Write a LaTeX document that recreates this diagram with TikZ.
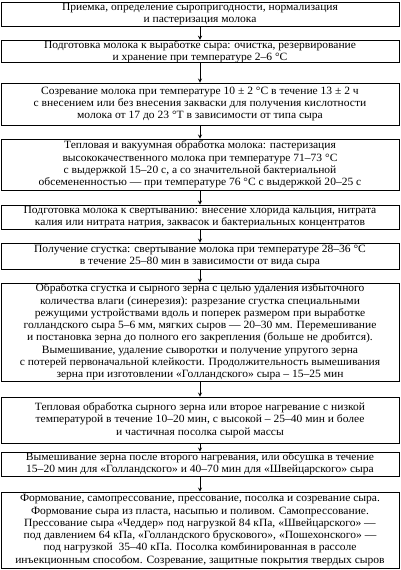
\documentclass[tikz,border=0pt]{standalone}
\usepackage{fontspec}
\setmainfont{Liberation Serif}[FakeStretch=1.04]
\usetikzlibrary{arrows, positioning}
\tikzset{>=stealth}
\tikzset{stage/.style={draw, line width=0.8pt, minimum width=398pt, inner sep=0pt, align=center, font=\fontsize{11.1}{12.3}\selectfont}}

\begin{document}
\begin{tikzpicture}[x=1pt,y=-1pt]
		\useasboundingbox (0,0) rectangle (400,570);
		\node[stage, minimum height=24pt] (A) at (200,14) {Приемка, определение сыропригодности, нормализация\\и пастеризация молока};
		\node[stage, minimum height=22pt] (B) at (200,51.5) {Подготовка молока к выработке сыра: очистка, резервирование\\и хранение при температуре 2–6 °С};
		\node[stage, minimum height=42pt] (C) at (200,104) {Созревание молока при температуре 10 ± 2 °С в течение 13 ± 2 ч\\с внесением или без внесения закваски для получения кислотности\\молока от 17 до 23 °Т в зависимости от типа сыра};
		\node[stage, minimum height=51pt] (D) at (200,164.5) {Тепловая и вакуумная обработка молока: пастеризация\\высококачественного молока при температуре 71–73 °С\\с выдержкой 15–20 с, а со значительной бактериальной\\обсемененностью — при температуре 76 °С с выдержкой 20–25 с};
		\node[stage, minimum height=24pt] (E) at (200,217) {Подготовка молока к свертыванию: внесение хлорида кальция, нитрата\\калия или нитрата натрия, заквасок и бактериальных концентратов};
		\node[stage, minimum height=26pt] (F) at (200,256) {Получение сгустка: свертывание молока при температуре 28–36 °С\\в течение 25–80 мин в зависимости от вида сыра};
		\node[stage, minimum height=98pt] (G) at (200,332) {Обработка сгустка и сырного зерна с целью удаления избыточного\\количества влаги (синерезия): разрезание сгустка специальными\\режущими устройствами вдоль и поперек размером при выработке\\голландского сыра 5–6 мм, мягких сыров — 20–30 мм. Перемешивание\\и постановка зерна до полного его закрепления (больше не дробится).\\Вымешивание, удаление сыворотки и получение упругого зерна\\с потерей первоначальной клейкости. Продолжительность вымешивания\\зерна при изготовлении «Голландского» сыра – 15–25 мин};
		\node[stage, minimum height=46pt] (H) at (200,420) {Тепловая обработка сырного зерна или второе нагревание с низкой\\температурой в течение 10–20 мин, с высокой – 25–40 мин и более\\и частичная посолка сырой массы};
		\node[stage, minimum height=24pt] (I) at (200,464) {Вымешивание зерна после второго нагревания, или обсушка в течение\\15–20 мин для «Голландского» и 40–70 мин для «Швейцарского» сыра};
		\node[stage, minimum height=76pt] (J) at (200,530) {Формование, самопрессование, прессование, посолка и созревание сыра.\\Формование сыра из пласта, насыпью и поливом. Самопрессование.\\Прессование сыра «Чеддер» под нагрузкой 84 кПа, «Швейцарского» —\\под давлением 64 кПа, «Голландского брускового», «Пошехонского» —\\под нагрузкой\ \ 35–40 кПа. Посолка комбинированная в рассоле\\инъекционным способом. Созревание, защитные покрытия твердых сыров};

		\draw[->, thick](A) -- (B);
		\draw[->, thick](B) -- (C);
		\draw[->, thick](C) -- (D);
		\draw[->, thick](D) -- (E);
		\draw[->, thick](E) -- (F);
		\draw[->, thick](F) -- (G);
		\draw[->, thick](G) -- (H);
		\draw[->, thick](H) -- (I);
		\draw[->, thick](I) -- (J);
\end{tikzpicture}
\end{document}
